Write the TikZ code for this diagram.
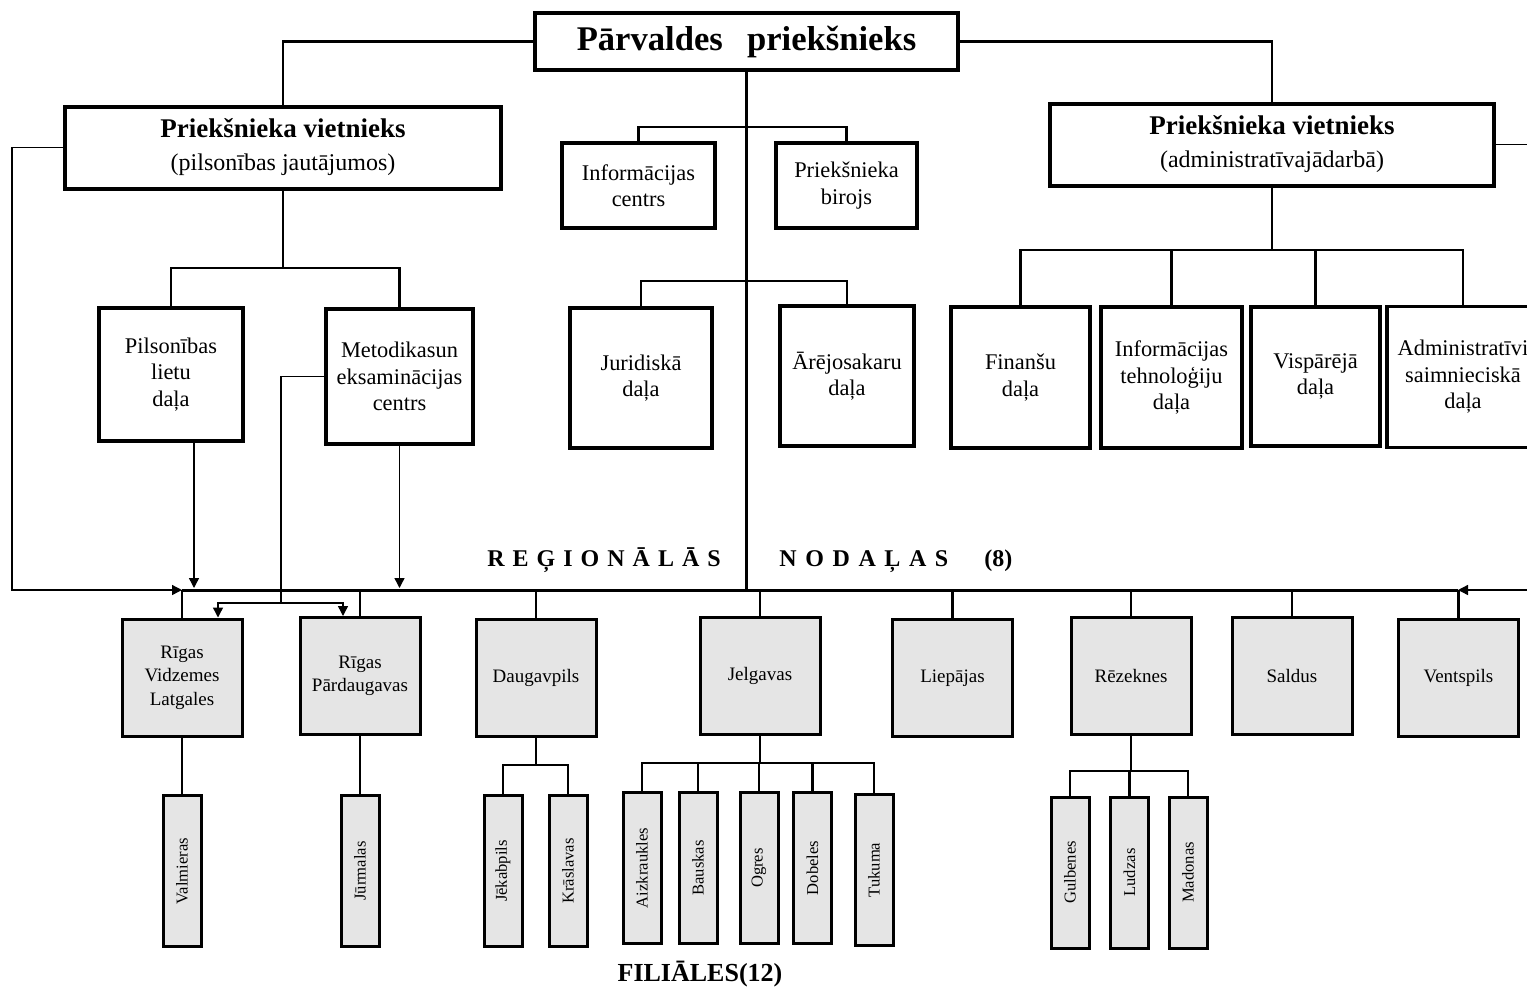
\documentclass[tikz,border=0pt]{standalone}
\usepackage{fontspec}
\setmainfont{Liberation Serif}
\usetikzlibrary{arrows.meta}
\definecolor{regfill}{gray}{0.9}
\tikzset{
  boss/.style={draw, line width=2.2pt, minimum width=211.5pt, minimum height=28.5pt,
    inner sep=0pt, font=\fontsize{17.3}{20}\selectfont\bfseries},
  deputy/.style={draw, line width=2pt, minimum height=41pt, inner sep=0pt,
    align=center, font=\fontsize{12}{16.5}\selectfont},
  unit/.style={draw, line width=1.8pt, inner sep=0pt, align=center,
    font=\fontsize{11.2}{13.2}\selectfont},
  region/.style={draw, fill=regfill, line width=1.5pt, minimum width=60pt,
    minimum height=58.5pt, inner sep=0pt, align=center, font=\fontsize{9.5}{11.75}\selectfont},
  branch/.style={draw, fill=regfill, line width=1.5pt, rotate=90, minimum width=75.5pt,
    minimum height=19pt, inner sep=0pt, font=\fontsize{8.3}{10}\selectfont},
  conn/.style={line width=1.4pt},
  bus/.style={line width=1.5pt},
  thinline/.style={line width=0.7pt},
  thinarrow/.style={line width=0.7pt, -{Triangle[length=5pt,width=5pt]}}
}
\begin{document}
\begin{tikzpicture}[x=0.5pt,y=-0.5pt]
  \useasboundingbox (0,0) rectangle (1527,986);
  \clip (0,0) rectangle (1527,986);
  % bars and turning points
  \coordinate (busL) at (182,590);
  \coordinate (busR) at (1458,590);
  \coordinate (ibar) at (0,127);
  \coordinate (jbar) at (0,281);
  \coordinate (lbar) at (0,268);
  \coordinate (rbar) at (0,250);
  \coordinate (lturn) at (12,590);
  \coordinate (rturn) at (1545,590);
  \coordinate (pdrop) at (194,588);
  \coordinate (mturn) at (281,603);
  \coordinate (dbar) at (0,765);
  \coordinate (gbar) at (0,763);
  \coordinate (zbar) at (0,771);

  % top of the tree
  \node[boss] (boss) at (746.5,41.5) {Pārvaldes\hspace{0.7em}priekšnieks};
  \node[deputy, minimum width=218pt] (ldep) at (283,147.5)
    {\textbf{\fontsize{13.5}{15}\selectfont Priekšnieka vietnieks}\\(pilsonības jautājumos)};
  \node[deputy, minimum width=222pt] (rdep) at (1272,144.5)
    {\textbf{\fontsize{13.5}{15}\selectfont Priekšnieka vietnieks}\\(administratīvajādarbā)};

  \node[unit, minimum width=76.5pt, minimum height=42.5pt] (info) at (638.5,185.5) {Informācijas\\centrs};
  \node[unit, minimum width=70.5pt, minimum height=42.5pt] (biroj) at (846.5,185.5) {Priekšnieka\\birojs};
  \node[unit, minimum width=71pt, minimum height=70pt] (jur) at (641,378) {Juridiskā\\daļa};
  \node[unit, minimum width=67pt, minimum height=70pt] (arej) at (847,376) {Ārējosakaru\\daļa};
  \node[unit, minimum width=72pt, minimum height=66.5pt] (pils) at (171,374.5) {Pilsonības\\lietu\\daļa};
  \node[unit, minimum width=73.5pt, minimum height=67.5pt] (metod) at (399.5,376.5) {Metodikasun\\eksaminācijas\\centrs};
  \node[unit, minimum width=69.5pt, minimum height=70.5pt] (fin) at (1020.5,377.5) {Finanšu\\daļa};
  \node[unit, minimum width=70.5pt, minimum height=70.5pt] (itd) at (1171.5,377.5) {Informācijas\\tehnoloģiju\\daļa};
  \node[unit, minimum width=64.5pt, minimum height=69.5pt] (visp) at (1315.5,376.5) {Vispārējā\\daļa};
  \node[unit, minimum width=76pt, minimum height=70.5pt] (admin) at (1463,377) {Administratīvi\\saimnieciskā\\daļa};

  \draw[conn] (boss.west) -| (ldep.north);
  \draw[conn] (boss.east) -| (rdep.north);
  \draw[conn] (boss.south) -- (boss.south |- busL);
  \draw[conn] (info.north) |- (biroj.north |- ibar) -- (biroj.north);
  \draw[conn] (jur.north) |- (arej.north |- jbar) -- (arej.north);
  \draw[conn] (ldep.south) -- (ldep.south |- lbar);
  \draw[conn] (pils.north) |- (metod.north |- lbar) -- (metod.north);
  \draw[conn] (rdep.south) -- (rdep.south |- rbar);
  \draw[conn] (fin.north) |- (admin.north |- rbar) -- (admin.north);
  \draw[conn] (itd.north) -- (itd.north |- rbar);
  \draw[conn] (visp.north) -- (visp.north |- rbar);

  % regional offices
  \node[region] (rvl) at (182,677.5) {Rīgas\\Vidzemes\\Latgales};
  \node[region] (rp) at (360,676) {Rīgas\\Pārdaugavas};
  \node[region] (dgp) at (536,677.5) {Daugavpils};
  \node[region] (jel) at (760,676) {Jelgavas};
  \node[region] (lie) at (952.5,678) {Liepājas};
  \node[region] (rez) at (1131,676) {Rēzeknes};
  \node[region] (sal) at (1292,676) {Saldus};
  \node[region] (ven) at (1458.5,678) {Ventspils};

  \node[font=\fontsize{12}{14}\selectfont\bfseries, anchor=base west, inner sep=0pt] (reg) at (487,566)
    {\spaceskip=4pt R E Ģ I O N Ā L Ā S};
  \node[font=\fontsize{12}{14}\selectfont\bfseries, anchor=base west, inner sep=0pt] (nod) at (779,566)
    {\spaceskip=4.3pt N O D A Ļ A S};
  \node[font=\fontsize{12}{14}\selectfont\bfseries, anchor=base west, inner sep=0pt] (cnt) at (984,566) {(8)};

  \draw[bus] (busL) -- (busR);
  \foreach \r in {rvl,rp,dgp,jel,lie,rez,sal,ven}
    \draw[conn] (\r.north) -- (\r.north |- busL);

  % thin links
  \draw[thinarrow] (ldep.west) -| (lturn) -- (busL);
  \draw[thinarrow] (rdep.east) -| (rturn) -- (busR);
  \draw[thinarrow] (pils.south -| pdrop) -- (pdrop);
  \draw[thinarrow] (metod.south) -- (metod.south |- pdrop);
  \draw[thinline] (metod.west) -| (mturn);
  \draw[thinarrow] (mturn) -| ([xshift=18pt]rvl.north);
  \draw[thinarrow] (mturn) -| ([xshift=-8.5pt]rp.north);

  % branches
  \node[branch] (valm) at (182,871) {Valmieras};
  \node[branch] (jurm) at (360,871) {Jūrmalas};
  \node[branch] (jek) at (503,871) {Jēkabpils};
  \node[branch] (kra) at (568,871) {Krāslavas};
  \node[branch] (aiz) at (642,868) {Aizkraukles};
  \node[branch] (bau) at (698,868) {Bauskas};
  \node[branch] (ogr) at (759,868) {Ogres};
  \node[branch] (dob) at (812.5,868) {Dobeles};
  \node[branch] (tuk) at (874,870) {Tukuma};
  \node[branch] (gul) at (1070,872.5) {Gulbenes};
  \node[branch] (lud) at (1129.5,872.5) {Ludzas};
  \node[branch] (mad) at (1188,872.5) {Madonas};

  \draw[conn] (rvl.south) -- (valm.east);
  \draw[conn] (rp.south) -- (jurm.east);
  \draw[conn] (dgp.south) -- (dgp.south |- dbar);
  \draw[conn] (jek.east) |- (kra.east |- dbar) -- (kra.east);
  \draw[conn] (jel.south) -- (jel.south |- gbar);
  \draw[conn] (aiz.east) |- (tuk.east |- gbar) -- (tuk.east);
  \foreach \b in {bau,ogr,dob}
    \draw[conn] (\b.east) -- (\b.east |- gbar);
  \draw[conn] (rez.south) -- (rez.south |- zbar);
  \draw[conn] (gul.east) |- (mad.east |- zbar) -- (mad.east);
  \draw[conn] (lud.east) -- (lud.east |- zbar);

  \node[font=\fontsize{13}{15}\selectfont\bfseries, anchor=base, inner sep=0pt] (fil) at (700,981) {FILIĀLES(12)};
\end{tikzpicture}
\end{document}
